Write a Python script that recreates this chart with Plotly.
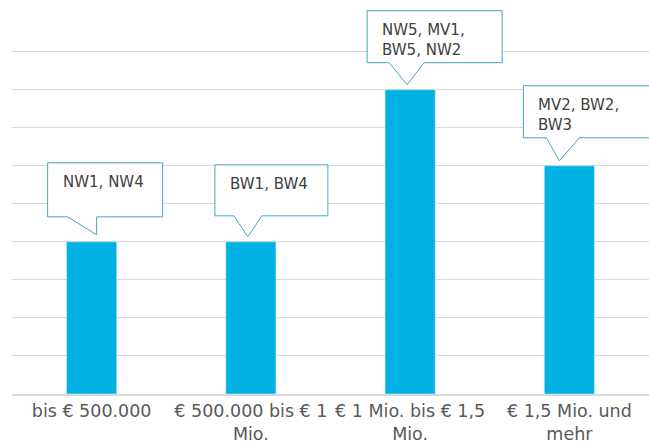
import plotly.graph_objects as go

# ---- data ----
categories = ["bis € 500.000", "€ 500.000 bis € 1<br>Mio.", "€ 1 Mio. bis € 1,5<br>Mio.", "€ 1,5 Mio. und<br>mehr"]
values = [2, 2, 4, 3]
callout_texts = ["NW1, NW4", "BW1, BW4", "NW5, MV1,<br>BW5, NW2", "MV2, BW2,<br>BW3"]
grid_vals = [0.5, 1.0, 1.5, 2.0, 2.5, 3.0, 3.5, 4.0, 4.5]

# ---- callout geometry (pixels relative to bar centre / bar top) ----
callout_geo = [
    dict(left=-44, right=71, top=79, bottom=25, pl=-24, pr=5, tx=5, ty=7),
    dict(left=-36, right=77, top=77, bottom=26, pl=-17, pr=11, tx=-3, ty=5),
    dict(left=-43, right=92, top=79, bottom=27, pl=-21, pr=14, tx=-3, ty=5),
    dict(left=-46, right=90, top=80, bottom=28, pl=-23, pr=10, tx=-10, ty=5),
]

BAR_COLOR = "#00B2E3"
BOX_COLOR = "#4BA3C3"
TEXT_COLOR = "#404040"
GRID_COLOR = "#D9D9D9"
FONT = "DejaVu Sans"

fig = go.Figure(go.Bar(x=categories, y=values, marker_color=BAR_COLOR, width=0.315,
                       hoverinfo="skip"))

shapes = []
annotations = []
for cat, val, txt, g in zip(categories, values, callout_texts, callout_geo):
    path = (f"M {g['left']},{g['top']} L {g['right']},{g['top']} L {g['right']},{g['bottom']} "
            f"L {g['pr']},{g['bottom']} L {g['tx']},{g['ty']} L {g['pl']},{g['bottom']} "
            f"L {g['left']},{g['bottom']} Z")
    shapes.append(dict(type="path", xref="x", yref="y", xsizemode="pixel", ysizemode="pixel",
                       xanchor=cat, yanchor=val, path=path,
                       line=dict(color=BOX_COLOR, width=1), fillcolor="white", layer="above"))
    annotations.append(dict(x=cat, y=val, xref="x", yref="y", text=txt, showarrow=False,
                            xanchor="left", yanchor="top", align="left",
                            xshift=g['left'] + 13, yshift=g['top'] - 8,
                            font=dict(family=FONT, size=15, color=TEXT_COLOR)))

fig.update_layout(
    width=649, height=444,
    margin=dict(l=12, r=0, t=6, b=50),
    paper_bgcolor="white", plot_bgcolor="white",
    showlegend=False,
    shapes=shapes, annotations=annotations,
    font=dict(family=FONT, size=17, color="#595959"),
    xaxis=dict(range=[-0.5, len(categories) - 0.5], autorange=False,
               showline=True, linecolor=GRID_COLOR, linewidth=2, ticks="", automargin=False,
               tickfont=dict(family=FONT, size=17.5, color="#595959"), fixedrange=True),
    yaxis=dict(range=[0, 5.1], autorange=False, tickmode="array", tickvals=grid_vals, showgrid=True,
               gridcolor=GRID_COLOR, gridwidth=1, automargin=False,
               showticklabels=False, zeroline=False, fixedrange=True),
)

fig.write_html("out.html", config={"displayModeBar": False},
               post_script="document.body.style.margin='0';document.body.style.overflow='hidden';")
